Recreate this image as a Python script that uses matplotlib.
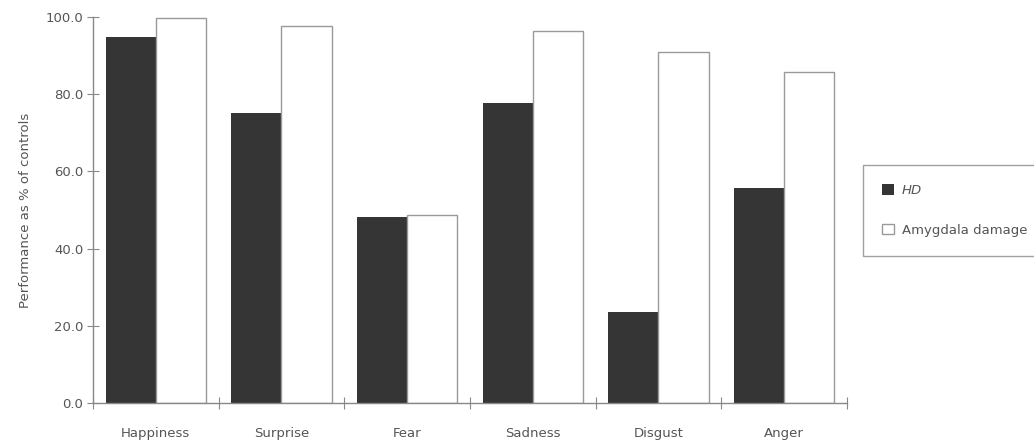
import numpy as np
import matplotlib.pyplot as plt

# Data
emotions = ['Happiness', 'Surprise', 'Fear', 'Sadness', 'Disgust', 'Anger']
hd = [94.8, 75.1, 48.3, 77.7, 23.6, 55.7]
amygdala = [99.8, 97.7, 48.7, 96.4, 91.0, 85.8]
y_ticks = [0, 20, 40, 60, 80, 100]

text_col = '#555555'
axis_col = '#888888'

plt.rcParams['font.family'] = ['DejaVu Sans']

fig = plt.figure(figsize=(10.34, 4.4), dpi=100)
ax = fig.add_axes([93 / 1034, 1 - 403 / 440, 754 / 1034, 386 / 440])

x = np.arange(len(emotions))
w = 0.40
ax.bar(x - w / 2, hd, width=w, color='#353535', edgecolor='none', label='HD')
ax.bar(x + w / 2, amygdala, width=w, color='white', edgecolor='#999999',
       linewidth=1.0, label='Amygdala damage')

ax.set_xlim(-0.5, len(emotions) - 0.5)
ax.set_ylim(0, 100)

# tick marks between the groups, labels at the group centres
ax.set_xticks(np.arange(len(emotions) + 1) - 0.5)
ax.set_xticklabels([])
ax.set_xticks(x, minor=True)
ax.set_xticklabels(emotions, minor=True)
ax.tick_params(axis='x', which='major', direction='inout', length=8,
               color=axis_col)
ax.tick_params(axis='x', which='minor', length=0, pad=17,
               labelsize=9.5, labelcolor=text_col)

ax.set_yticks(y_ticks)
ax.set_yticklabels([f'{v:.1f}' for v in y_ticks])
ax.tick_params(axis='y', direction='inout', length=8, color=axis_col,
               labelsize=9.5, labelcolor=text_col, pad=3)

ax.set_ylabel('Performance as % of controls', color=text_col, fontsize=9.5,
              labelpad=10)

for s in ['top', 'right']:
    ax.spines[s].set_visible(False)
for s in ['left', 'bottom']:
    ax.spines[s].set_color(axis_col)
    ax.spines[s].set_linewidth(1.0)

leg = fig.legend(loc='upper left', bbox_to_anchor=(863 / 1034, 1 - 165 / 440),
                 fontsize=9.5, frameon=True, fancybox=False, edgecolor='#888888',
                 handlelength=0.9, handleheight=0.9, labelspacing=2.0,
                 borderpad=1.45, handletextpad=0.6, borderaxespad=0)
leg.get_frame().set_linewidth(1.0)
for t in leg.get_texts():
    t.set_color(text_col)
leg.get_texts()[0].set_style('italic')

fig.savefig('out.png', dpi=100, facecolor='white')
